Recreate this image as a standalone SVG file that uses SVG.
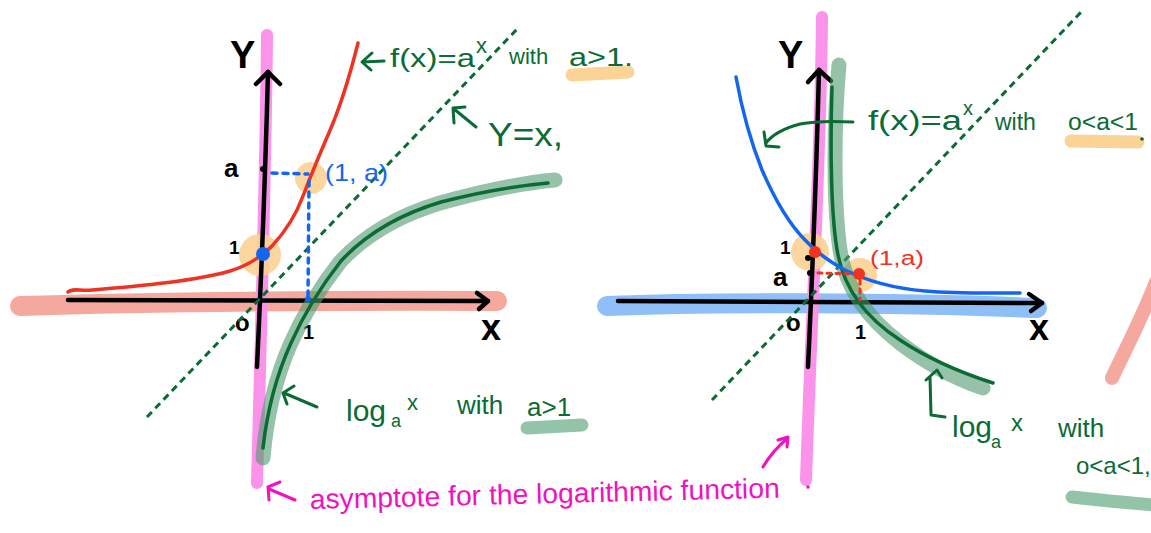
<svg xmlns="http://www.w3.org/2000/svg" width="1151" height="533" viewBox="0 0 1151 533">
<style>
.s{fill:none;stroke-linecap:round;stroke-linejoin:round}
.blk{stroke:#000;stroke-width:4.5}
.pink{stroke:#fc93ea;stroke-width:12}
.salmon{stroke:#f5a89e;stroke-width:20}
.bband{stroke:#8fbff7;stroke-width:20}
.lg{stroke:#4f9a6e;stroke-opacity:0.6;stroke-width:15}
.dg{stroke:#0a6b35;stroke-width:3.5}
.gdot{stroke:#0a6b35;stroke-width:3;stroke-dasharray:7 5;stroke-linecap:butt}
.hlo{stroke:#fbd395;stroke-width:13}
.hlg{stroke:#93c3a9;stroke-width:13}
.t{font-family:"Liberation Sans",Arial,sans-serif}
.tb{font-family:"Liberation Sans",Arial,sans-serif;font-weight:bold;fill:#000}
.tg{font-family:"Liberation Sans",Arial,sans-serif;fill:#0a6b35}
</style>
<rect width="1151" height="533" fill="#fff"/>

<!-- LEFT GRAPH -->
<g id="left-graph">
  <g id="left-bands">
    <path class="s salmon" d="M20,306 C150,302 350,300 497,301"/>
    <path class="s pink" d="M267,35 C266,150 262,300 257,483"/>
  </g>
  <g id="left-highlights">
    <circle cx="260" cy="255" r="21" fill="#fbd395" fill-opacity="0.9"/>
    <circle cx="311" cy="178" r="16" fill="#fbd395" fill-opacity="0.9"/>
  </g>
  <g id="left-axes">
    <path class="s blk" d="M68,300 L488,301"/>
    <path class="s blk" d="M477,293 L488,301 L479,309"/>
    <path class="s blk" d="M268,72 C266,150 262,260 257,367"/>
    <path class="s blk" d="M256,84 L268,72 L280,84"/>
    <text class="tb" x="230" y="68" font-size="38">Y</text>
    <text class="tb" x="224" y="177" font-size="26">a</text>
    <text class="tb" x="229" y="254" font-size="19">1</text>
    <text class="tb" x="235" y="331" font-size="24">o</text>
    <text class="tb" x="303" y="339" font-size="20">1</text>
    <text class="tb" x="481" y="340" font-size="36">x</text>
    <circle cx="263" cy="169" r="3" fill="#000"/>
  </g>
  <g id="left-identity">
    <path class="s gdot" d="M147,417 L519,27"/>
  </g>
  <g id="left-log">
    <path class="s lg" d="M263,458 C266,420 275,380 290,345 C302,318 318,290 340,262 C365,235 400,215 440,203 C480,192 520,183 555,180"/>
    <path class="s dg" d="M263,448 C267,412 276,376 291,343 C303,316 319,289 341,261 C366,234 401,214 441,202 C480,192 515,186 548,183"/>
  </g>
  <g id="left-exp">
    <path class="s" stroke="#ee3322" stroke-width="3.5" d="M68,292 C72,288 80,291 92,290 C140,286 195,281 230,271 C250,265 262,256 272,246 C285,232 296,215 303,196 C310,178 318,158 328,135 C340,108 350,75 358,43"/>
    <path class="s" stroke="#1466f0" stroke-width="3.5" stroke-dasharray="5 6" d="M272,173 L308,174 M309,181 L308,297"/>
    <circle cx="308" cy="299" r="3" fill="#1466f0"/>
    <circle cx="263" cy="254" r="7" fill="#1466f0"/>
    <text class="t" x="325" y="181" font-size="24" fill="#1466f0" textLength="63" lengthAdjust="spacingAndGlyphs">(1, a)</text>
  </g>
  <g id="left-labels">
    <text class="tg" x="390" y="67" font-size="26" textLength="85" lengthAdjust="spacingAndGlyphs">f(x)=a</text>
    <text class="tg" x="476" y="53" font-size="22">x</text>
    <text class="tg" x="509" y="64" font-size="22">with</text>
    <path class="s hlo" d="M572,75 L628,72"/>
    <text class="tg" x="569" y="66" font-size="25" textLength="64" lengthAdjust="spacingAndGlyphs">a&gt;1.</text>
    <text class="tg" x="488" y="146" font-size="34" textLength="75" lengthAdjust="spacingAndGlyphs">Y=x,</text>
    <text class="tg" x="346" y="421" font-size="30">log</text>
    <text class="tg" x="391" y="427" font-size="18">a</text>
    <text class="tg" x="407" y="410" font-size="22">x</text>
    <text class="tg" x="457" y="414" font-size="26">with</text>
    <path class="s hlg" d="M527,428 L582,425"/>
    <text class="tg" x="527" y="416" font-size="26">a&gt;1</text>
  </g>
</g>

<!-- RIGHT GRAPH -->
<g id="right-graph">
  <g id="right-bands">
    <path class="s bband" d="M607,306 C700,302 900,302 1037,308"/>
    <path class="s pink" d="M822,17 C821,150 812,300 806,480"/>
  </g>
  <g id="right-highlights">
    <circle cx="810" cy="252" r="19" fill="#fbd395" fill-opacity="0.9"/>
    <circle cx="860" cy="275" r="17" fill="#fbd395" fill-opacity="0.9"/>
  </g>
  <g id="right-axes">
    <path class="s blk" d="M618,301 L1042,303"/>
    <path class="s blk" d="M1029,294 L1042,303 L1031,311"/>
    <path class="s blk" d="M819,70 C817,150 813,260 808,367"/>
    <path class="s blk" d="M808,82 L819,70 L831,81"/>
    <text class="tb" x="778" y="68" font-size="38">Y</text>
    <text class="tb" x="780" y="254" font-size="19">1</text>
    <text class="tb" x="773" y="286" font-size="26">a</text>
    <text class="tb" x="786" y="331" font-size="24">o</text>
    <text class="tb" x="855" y="339" font-size="20">1</text>
    <text class="tb" x="1029" y="340" font-size="36">x</text>
    <circle cx="808" cy="258" r="3" fill="#000"/>
    <circle cx="810" cy="273" r="3" fill="#000"/>
  </g>
  <g id="right-identity">
    <path class="s gdot" d="M712,400 L1083,10"/>
  </g>
  <g id="right-log">
    <path class="s lg" d="M839,65 C834,120 833,200 840,250 C846,290 868,318 900,343 C930,366 960,380 983,388"/>
    <path class="s dg" d="M832,87 C830,150 831,220 838,255 C845,290 866,318 900,340 C933,362 965,374 993,383"/>
  </g>
  <g id="right-exp">
    <path class="s" stroke="#1466f0" stroke-width="3.5" d="M736,77 C742,110 750,140 762,170 C775,200 790,225 805,240 C818,254 830,262 845,270 C865,280 890,288 925,291 C960,294 990,293 1020,293"/>
    <path class="s" stroke="#ee3322" stroke-width="3" stroke-dasharray="4 5" d="M818,273 L856,274 M860,280 L860,300"/>
    <circle cx="815" cy="252" r="6" fill="#ee3322"/>
    <circle cx="859" cy="274" r="6" fill="#ee3322"/>
    <text class="t" x="870" y="265" font-size="20" fill="#ee3322" textLength="54" lengthAdjust="spacingAndGlyphs">(1,a)</text>
  </g>
  <g id="right-labels">
    <text class="tg" x="868" y="130" font-size="27" textLength="94" lengthAdjust="spacingAndGlyphs">f(x)=a</text>
    <text class="tg" x="963" y="115" font-size="20">x</text>
    <text class="tg" x="995" y="130" font-size="23">with</text>
    <path class="s hlo" d="M1071,141 L1138,142"/>
    <text class="tg" x="1068" y="130" font-size="23" textLength="70" lengthAdjust="spacingAndGlyphs">o&lt;a&lt;1</text>
    <circle cx="1142" cy="139" r="1.8" fill="#0a6b35"/>
    <text class="tg" x="952" y="437" font-size="30">log</text>
    <text class="tg" x="991" y="448" font-size="18">a</text>
    <text class="tg" x="1011" y="431" font-size="24">x</text>
    <text class="tg" x="1058" y="437" font-size="26">with</text>
    <text class="tg" x="1076" y="474" font-size="24">o&lt;a&lt;1,</text>
    <path class="s hlg" d="M1072,497 C1100,500 1130,503 1155,505"/>
  </g>
  <path id="edge-curve" class="s" stroke="#f5a89e" stroke-width="14" d="M1156,282 C1142,318 1126,348 1112,378"/>
</g>

<!-- ASYMPTOTE NOTE -->
<g id="asymptote-note">
  <text class="t" x="310" y="509" font-size="28" fill="#f012c0" textLength="470" lengthAdjust="spacingAndGlyphs" transform="rotate(-1.4 310 509)">asymptote for the logarithmic function</text>
  <circle cx="808" cy="487" r="1.8" fill="#f012c0"/>
</g>

<!-- CONNECTORS (annotation arrows) -->
<g id="connectors" class="s">
  <path stroke="#0a6b35" stroke-width="3" d="M384,61 L363,62 M372,53 L362,62 L371,70"/>
  <path stroke="#0a6b35" stroke-width="3" d="M465,107 L453,108 L454,123 M454,109 L476,127"/>
  <path stroke="#0a6b35" stroke-width="3" d="M294,386 L283,393 L287,404 M284,393 L317,407"/>
  <path stroke="#0a6b35" stroke-width="3" d="M853,122 C835,121 815,121 800,124 C785,128 772,135 766,143 M764,132 L766,146 L779,147"/>
  <path stroke="#0a6b35" stroke-width="3" d="M945,417 L931,415 L930,377 M926,380 L937,370 L942,378"/>
  <path stroke="#f012c0" stroke-width="3" d="M280,482 L268,487 L269,500 M269,489 L295,500"/>
  <path stroke="#f012c0" stroke-width="3" d="M763,467 C770,455 778,446 788,438 M778,440 L788,437 L787,447"/>
</g>
</svg>
